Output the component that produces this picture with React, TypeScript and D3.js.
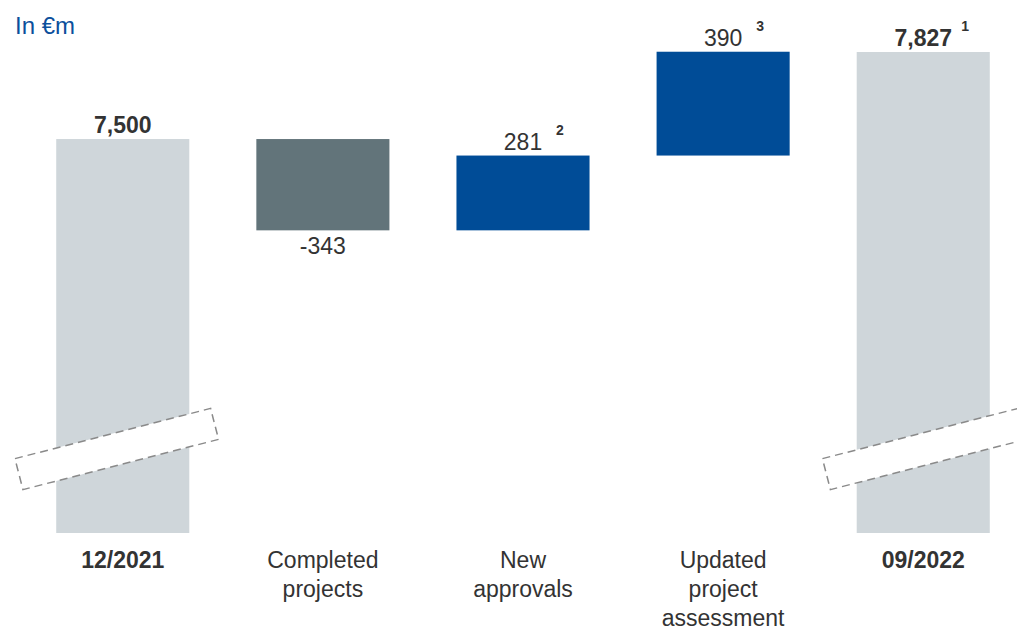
import React from "react";
import * as d3 from "d3";

const categories = ["12/2021", "Completed projects", "New approvals", "Updated project assessment", "09/2022"];
const categoryLines = [["12/2021"], ["Completed", "projects"], ["New", "approvals"], ["Updated", "project", "assessment"], ["09/2022"]];
const kinds = ["total", "delta", "delta", "delta", "total"];
const values = [7500, -343, 281, 390, 7827];
const valueLabels = ["7,500", "-343", "281", "390", "7,827"];
const footnotes = ["", "", "2", "3", "1"];
const axisMin = 6020;
const axisMax = 7827;

const W = 1017;
const H = 630;
const font = "'Liberation Sans', Arial, sans-serif";

export default function App() {
  const x = d3.scaleBand<string>().domain(categories).range([23, 1023]).paddingInner(0.335).paddingOuter(0.166);
  const y = d3.scaleLinear().domain([axisMin, axisMax]).range([533, 52]);

  let running = 0;
  const bars = values.map((v, i) => {
    let y0: number, y1: number;
    if (kinds[i] === "total") {
      y0 = axisMin;
      y1 = v;
      running = v;
    } else {
      y0 = running;
      y1 = running + v;
      running = y1;
    }
    return { cat: categories[i], v, y0, y1, i };
  });

  const colorFor = (i: number) => {
    if (kinds[i] === "total") return "#cfd6da";
    return values[i] < 0 ? "#62747a" : "#004c97";
  };

  const bw = x.bandwidth();

  const breakMark = (cx: number, cy: number, key: string) => (
    <g key={key} transform={`translate(${cx},${cy}) rotate(-14.4)`}>
      <rect x={-101} y={-16} width={202} height={32} fill="#fff" stroke="#8a8a8a" strokeWidth={1.5} strokeDasharray="8,5" />
    </g>
  );

  return (
    <svg width={W} height={H} style={{ position: "absolute", left: 0, top: 0 }} fontFamily={font}>
      <text x={15} y={34} fontSize={24} fill="#0b4f9c">In €m</text>
      {bars.map((b) => {
        const top = y(Math.max(b.y0, b.y1));
        const bottom = y(Math.min(b.y0, b.y1));
        return <rect key={b.cat} x={x(b.cat)} y={top} width={bw} height={bottom - top} fill={colorFor(b.i)} />;
      })}
      {breakMark((x(categories[0]) as number) + bw / 2 - 6, 449, "b1")}
      {breakMark((x(categories[4]) as number) + bw / 2 + 1, 449, "b2")}
      {bars.map((b) => {
        const cx = (x(b.cat) as number) + bw / 2;
        const isTotal = kinds[b.i] === "total";
        const below = b.v < 0 && !isTotal;
        const ty = below ? y(Math.min(b.y0, b.y1)) + 24 : y(Math.max(b.y0, b.y1)) - 6;
        return (
          <g key={"l" + b.cat}>
            <text x={cx} y={ty} fontSize={23} textAnchor="middle" fill="#333" fontWeight={isTotal ? "bold" : "normal"}>
              {valueLabels[b.i]}
            </text>
            {footnotes[b.i] && (
              <text x={cx + (isTotal ? 42 : 37)} y={ty - 15} fontSize={14} fontWeight="bold" fill="#333" textAnchor="middle">
                {footnotes[b.i]}
              </text>
            )}
          </g>
        );
      })}
      {categories.map((c, i) => {
        const cx = (x(c) as number) + bw / 2;
        const bold = kinds[i] === "total";
        return (
          <text key={"c" + c} x={cx} textAnchor="middle" fontSize={23} fill="#333" fontWeight={bold ? "bold" : "normal"}>
            {categoryLines[i].map((ln, j) => (
              <tspan key={j} x={cx} y={568 + j * 29}>{ln}</tspan>
            ))}
          </text>
        );
      })}
    </svg>
  );
}
